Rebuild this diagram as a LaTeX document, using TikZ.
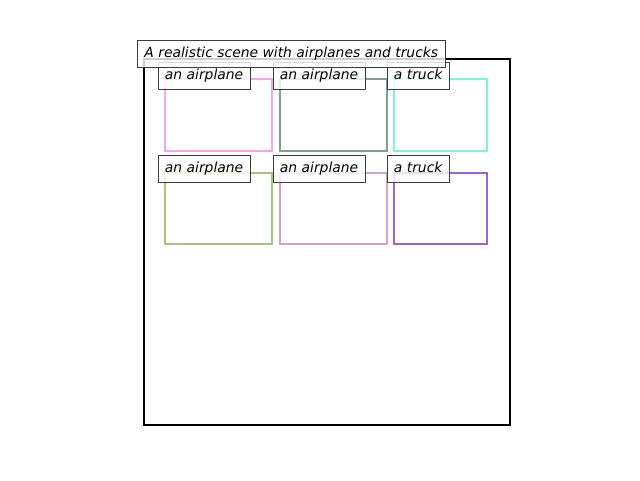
\documentclass[tikz,border=0pt]{standalone}
\usepackage{fontspec}
\setmainfont{DejaVu Sans}
\begin{document}
\begin{tikzpicture}[x=1pt,y=-1pt]
\definecolor{cpinka}{HTML}{EFA8F0}
\definecolor{cgraygreen}{HTML}{7F9F8F}
\definecolor{caqua}{HTML}{7FF5D5}
\definecolor{cgreen}{HTML}{A3C57D}
\definecolor{cpinkb}{HTML}{D9A0B9}
\definecolor{cpurple}{HTML}{9B62D6}
\definecolor{cborder}{HTML}{3C3C3C}
\tikzset{
  bbox/.style={draw=#1, line width=2.2pt, rectangle, inner sep=0pt, outer sep=0pt, anchor=north west},
  lbl/.style={draw=cborder, line width=1pt, fill=white, fill opacity=0.8, text opacity=1,
    font=\fontsize{13.89}{16}\selectfont\itshape, anchor=north west, inner xsep=6.9pt, inner ysep=0pt,
    outer sep=0pt, minimum height=27pt, text height=10.5pt, text depth=3pt},
}
\useasboundingbox (0,0) rectangle (640,480);
\node[draw=black, line width=2.2pt, rectangle, inner sep=0pt, outer sep=0pt, anchor=north west,
  minimum width=366pt, minimum height=366pt] (scene) at (144,59) {};
\node[bbox=cpinka, minimum width=107pt, minimum height=72pt] (b1) at (165,79) {};
\node[bbox=cgraygreen, minimum width=107pt, minimum height=72pt] (b2) at (280,79) {};
\node[bbox=caqua, minimum width=93pt, minimum height=72pt] (b3) at (394,79) {};
\node[bbox=cgreen, minimum width=107pt, minimum height=71pt] (b4) at (165,173) {};
\node[bbox=cpinkb, minimum width=107pt, minimum height=71pt] (b5) at (280,173) {};
\node[bbox=cpurple, minimum width=93pt, minimum height=71pt] (b6) at (394,173) {};
\node[lbl] (l1) at (158,62) {an airplane};
\node[lbl] (l2) at (273,62) {an airplane};
\node[lbl] (l3) at (387,62) {a truck};
\node[lbl] (l4) at (158,155.5) {an airplane};
\node[lbl] (l5) at (273,155.5) {an airplane};
\node[lbl] (l6) at (387,155.5) {a truck};
\node[lbl] (title) at (137.5,40.5) {A realistic scene with airplanes and trucks};
\end{tikzpicture}
\end{document}
